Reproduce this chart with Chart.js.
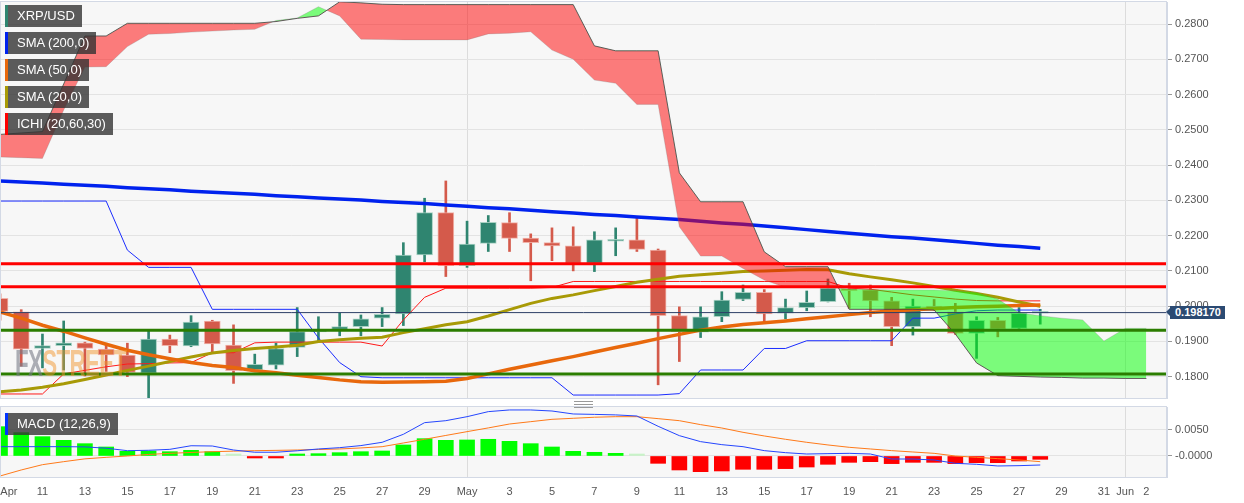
<!DOCTYPE html>
<html>
<head>
<meta charset="utf-8">
<script src="https://cdn.jsdelivr.net/npm/chart.js@4.4.1/dist/chart.umd.min.js"></script>
<style>
body { margin: 0; background: #fff; font-family: "Liberation Sans", Arial, sans-serif; }
#wrap { position: relative; width: 1244px; height: 503px; overflow: hidden; }
canvas { position: absolute; left: 0; }
.tag { position: absolute; left: 5px; height: 22px; line-height: 22px; padding: 0 7px 0 12px;
       background: rgba(51,51,51,0.8); color: #fff; font-size: 13px; white-space: nowrap; }
.tag i { position: absolute; left: 0; top: 0; width: 3px; height: 100%; }
#price { position: absolute; left: 1170px; height: 13px; line-height: 13px; padding: 0 4px 0 5px;
         background: #2b4a72; color: #fff; font-size: 11px; font-weight: bold; }
#price:before { content: ""; position: absolute; left: -4px; top: 2px; border-style: solid;
                border-width: 4.5px 4px 4.5px 0; border-color: transparent #2b4a72 transparent transparent; }
#wm { position: absolute; left: 15px; top: 343px; font: bold 36px "Liberation Sans Narrow", "Liberation Sans", sans-serif;
      transform: scaleX(0.62); transform-origin: left top; letter-spacing: -1px; }
#grip { position: absolute; left: 574px; top: 401px; width: 19px; height: 5px;
        border-top: 1px solid #999; border-bottom: 1px solid #999; }
#grip:after { content: ""; position: absolute; left: 0; right: 0; top: 2px; border-top: 1px solid #999; }
</style>
</head>
<body>
<div id="wrap">
  <canvas id="main" width="1244" height="400" style="top:0"></canvas>
  <canvas id="macd" width="1244" height="103" style="top:400px"></canvas>
  <div id="wm"><span style="color:rgba(120,124,135,0.6)">FX</span><span style="color:rgba(242,150,45,0.5)">STREET</span></div>
  <div id="grip"></div>
</div>
<script>
// daily candles, Apr 9 .. May 28
const openP  = [0.2022,0.1984,0.1880,0.1888,0.1896,0.1878,0.1861,0.1810,0.1907,0.1887,0.1958,0.1890,0.1819,0.1833,0.1883,0.1927,0.1934,0.1942,0.1966,0.1978,
                0.2145,0.2265,0.2115,0.2178,0.2237,0.2193,0.2180,0.2171,0.2121,0.2184,0.2188,0.2159,0.1973,0.1926,0.1970,0.2019,0.2039,0.1980,0.1996,0.2013,
                0.2048,0.2046,0.2015,0.1942,0.2000,0.1984,0.1923,0.1960,0.1937,0.1980];
const highP  = [0.2035,0.1990,0.1921,0.1958,0.1898,0.1895,0.1895,0.1930,0.1918,0.1973,0.1960,0.1947,0.1864,0.1895,0.1996,0.1970,0.1980,0.1975,0.1996,0.2180,
                0.2306,0.2355,0.2241,0.2257,0.2265,0.2205,0.2222,0.2225,0.2211,0.2222,0.2249,0.2162,0.1998,0.1998,0.2041,0.2060,0.2047,0.2020,0.2043,0.2077,
                0.2065,0.2060,0.2025,0.2020,0.2019,0.2008,0.1970,0.1968,0.1996,0.1991];
const lowP   = [0.1960,0.1830,0.1825,0.1819,0.1802,0.1815,0.1800,0.1740,0.1868,0.1885,0.1868,0.1781,0.1814,0.1822,0.1857,0.1902,0.1916,0.1916,0.1942,0.1945,
                0.2126,0.2084,0.2110,0.2155,0.2155,0.2072,0.2129,0.2100,0.2098,0.2143,0.2155,0.1777,0.1843,0.1911,0.1956,0.2016,0.1951,0.1964,0.1987,0.2012,
                0.1994,0.1970,0.1888,0.1918,0.1988,0.1920,0.1852,0.1913,0.1935,0.1949];
const closeP = [0.1985,0.1878,0.1888,0.1896,0.1880,0.1862,0.1812,0.1907,0.1888,0.1955,0.1893,0.1817,0.1835,0.1880,0.1928,0.1932,0.1942,0.1964,0.1977,0.2145,
                0.2265,0.2115,0.2176,0.2238,0.2192,0.2180,0.2171,0.2121,0.2188,0.2188,0.2161,0.1973,0.1928,0.1970,0.2017,0.2039,0.1978,0.1996,0.2011,0.2051,
                0.2044,0.2015,0.1942,0.2000,0.1990,0.1923,0.1960,0.1935,0.1980,0.19817];

const sma200 = [0.2355,0.2352,0.2349,0.2346,0.2343,0.2340,0.2336,0.2333,0.2330,0.2326,0.2323,0.2320,0.2317,0.2313,0.2310,0.2307,0.2304,0.2301,0.2297,0.2294,
                0.2291,0.2287,0.2283,0.2279,0.2276,0.2272,0.2268,0.2264,0.2260,0.2257,0.2253,0.2249,0.2246,0.2241,0.2236,0.2232,0.2227,0.2222,0.2217,0.2212,
                0.2207,0.2202,0.2197,0.2193,0.2188,0.2183,0.2178,0.2173,0.2169,0.2164];
const sma50  = [0.1984,0.1966,0.1946,0.1929,0.1910,0.1892,0.1875,0.1862,0.1851,0.1840,0.1832,0.1826,0.1817,0.1811,0.1804,0.1798,0.1791,0.1786,0.1784,0.1785,
                0.1786,0.1787,0.1795,0.1808,0.1821,0.1833,0.1845,0.1857,0.1870,0.1883,0.1895,0.1908,0.1920,0.1932,0.1941,0.1948,0.1953,0.1958,0.1964,0.1970,
                0.1976,0.1982,0.1986,0.1990,0.1993,0.1996,0.1998,0.2000,0.2002,0.2003];
const sma20  = [0.1757,0.1762,0.1770,0.1780,0.1792,0.1805,0.1818,0.1830,0.1843,0.1856,0.1867,0.1874,0.1880,0.1884,0.1889,0.1900,0.1905,0.1909,0.1912,0.1925,
                0.1936,0.1947,0.1956,0.1972,0.1990,0.2008,0.2022,0.2032,0.2044,0.2056,0.2068,0.2076,0.2085,0.2089,0.2093,0.2098,0.2100,0.2102,0.2104,0.2103,
                0.2092,0.2083,0.2075,0.2066,0.2056,0.2045,0.2036,0.2025,0.2012,0.2000];
// ichimoku conversion / base lines
const tenkan = [0.1751,0.1751,0.1751,0.1808,0.1818,0.1828,0.1836,0.1837,0.1839,0.1840,0.1868,0.1868,0.1896,0.1898,0.1898,0.1898,0.1898,0.1898,0.1887,0.1961,
                0.2025,0.2051,0.2051,0.2051,0.2051,0.2051,0.2053,0.2070,0.2070,0.2070,0.2070,0.2070,0.2070,0.2070,0.2070,0.2070,0.2070,0.2070,0.2070,0.2070,
                0.2051,0.2048,0.2040,0.2032,0.2026,0.2020,0.2016,0.2015,0.2015,0.2015];
const kijun  = [0.2298,0.2298,0.2298,0.2298,0.2298,0.2298,0.2159,0.2110,0.2110,0.2110,0.1991,0.1991,0.1991,0.1991,0.1991,0.1910,0.1840,0.1800,0.1797,0.1797,
                0.1797,0.1797,0.1797,0.1797,0.1797,0.1797,0.1797,0.1748,0.1748,0.1748,0.1748,0.1748,0.1752,0.1819,0.1819,0.1819,0.1880,0.1880,0.1902,0.1902,
                0.1902,0.1902,0.1902,0.1966,0.1966,0.1978,0.1987,0.1989,0.1989,0.1989];
// cloud, runs 5 days past the last candle
const spanA = [0.2423,0.2421,0.2419,0.2556,0.2678,0.2679,0.2736,0.2771,0.2773,0.2777,0.2780,0.2783,0.2785,0.2810,0.2817,0.2849,0.2823,0.2757,0.2756,0.2755,
               0.2755,0.2755,0.2755,0.2772,0.2774,0.2778,0.2726,0.2700,0.2641,0.2632,0.2572,0.2572,0.2225,0.2142,0.2142,0.2107,0.2074,0.2053,0.2053,0.2053,
               0.2049,0.2047,0.2046,0.2046,0.2046,0.2044,0.2039,0.2020,0.1981,0.1973,0.1966,0.1961,0.1901,0.1937,0.1937];
const spanB = [0.2487,0.2491,0.2495,0.2630,0.2766,0.2766,0.2802,0.2802,0.2802,0.2802,0.2802,0.2802,0.2802,0.2807,0.2816,0.2823,0.2863,0.2860,0.2856,0.2855,
               0.2855,0.2855,0.2855,0.2855,0.2855,0.2855,0.2855,0.2855,0.2738,0.2724,0.2724,0.2724,0.2378,0.2296,0.2296,0.2296,0.2154,0.2112,0.2112,0.2112,
               0.1991,0.1991,0.1991,0.1991,0.1989,0.1921,0.1839,0.1803,0.1801,0.1799,0.1798,0.1796,0.1796,0.1795,0.1795];

const resistLevels = [0.2120, 0.2055];
const supportLevels = [0.1932, 0.1808];
const priceTicks = [0.18, 0.19, 0.20, 0.21, 0.22, 0.23, 0.24, 0.25, 0.26, 0.27, 0.28];

const macdHist = [0.00564,0.00449,0.00372,0.00301,0.00237,0.00173,0.00090,0.00096,0.00083,0.00109,0.00083,0.00019,-0.00013,-0.00013,0.00026,0.00045,0.00064,0.00083,0.00096,0.00212,
                  0.00333,0.00301,0.00308,0.00321,0.00282,0.00237,0.00173,0.00090,0.00071,0.00051,0.00010,-0.00141,-0.00269,-0.00301,-0.00288,-0.00256,-0.00256,-0.00243,-0.00212,-0.00160,
                  -0.00122,-0.00109,-0.00147,-0.00122,-0.00122,-0.00147,-0.00128,-0.00128,-0.00096,-0.00064];
const macdLine = [0.00179,0.00179,0.00179,0.00179,0.00175,0.00150,0.00102,0.00110,0.00128,0.00197,0.00192,0.00115,0.00072,0.00072,0.00100,0.00135,0.00160,0.00200,0.00263,0.00417,
                  0.00641,0.00679,0.00756,0.00853,0.00885,0.00885,0.00865,0.00808,0.00800,0.00790,0.00769,0.00571,0.00391,0.00276,0.00218,0.00179,0.00103,0.00064,0.00038,0.00045,
                  0.00051,0.00038,-0.00058,-0.00058,-0.00077,-0.00141,-0.00160,-0.00192,-0.00186,-0.00173];
const macdSignal = [-0.00385,-0.00269,-0.00167,-0.00109,-0.00055,-0.00026,0.00000,0.00030,0.00051,0.00068,0.00083,0.00093,0.00102,0.00108,0.00115,0.00125,0.00135,0.00155,0.00179,0.00250,
                    0.00321,0.00395,0.00468,0.00540,0.00615,0.00660,0.00705,0.00725,0.00745,0.00756,0.00756,0.00718,0.00679,0.00603,0.00538,0.00455,0.00385,0.00321,0.00263,0.00212,
                    0.00167,0.00135,0.00103,0.00077,0.00051,0.00000,-0.00026,-0.00051,-0.00077,-0.00109];
const macdTicks = [0, 0.005];
const macdTickLabels = ['-0.0000', '0.0050'];

// day index of each date label ("Apr" nudged right so it stays inside)
const dayTicks = [0.42, 2, 4, 6, 8, 10, 12, 14, 16, 18, 20, 22, 24, 26, 28, 30, 32, 34, 36, 38, 40, 42, 44, 46, 48, 50, 52, 53, 54];
const dayLabels = ['Apr','11','13','15','17','19','21','23','25','27','29','May','3','5','7','9','11','13','15','17','19','21','23','25','27','29','31','Jun','2'];
const monthStarts = [22, 53];

const legendNames = ['XRP/USD', 'SMA (200,0)', 'SMA (50,0)', 'SMA (20,0)', 'ICHI (20,60,30)'];
const legendColors = ['#2f8570', '#0022ee', '#e8680c', '#a89a06', '#ff0000'];

const X_MAX = 54.97;
const RED = '#d45a4b', TEAL = '#2f8570';
const lastClose = closeP[closeP.length - 1];

Chart.defaults.font.family = '"Liberation Sans", Arial, sans-serif';
Chart.defaults.font.size = 11;
Chart.defaults.color = '#555';

const pts = arr => arr.map((v, i) => ({ x: i, y: v }));
const flat = v => [{ x: 0, y: v }, { x: X_MAX, y: v }];
const isUp = i => closeP[i] >= openP[i];

const panelBg = {
  id: 'panelBg',
  beforeDraw(c) {
    const a = c.chartArea, g = c.ctx;
    g.save();
    g.fillStyle = '#f7f7f7';
    g.fillRect(a.left, a.top, a.right - a.left, a.bottom - a.top);
    g.restore();
  },
  afterDraw(c) {
    const a = c.chartArea, g = c.ctx;
    g.save();
    g.strokeStyle = '#d3d9e5';
    g.lineWidth = 1;
    g.strokeRect(a.left + 0.5, a.top - 0.5, a.right - a.left - 1, a.bottom - a.top + 1);
    g.restore();
  }
};

function lineDs(data, color, width, order) {
  return { type: 'line', data: data, borderColor: color, borderWidth: width, pointRadius: 0,
           tension: 0, fill: false, order: order };
}

function yAxisFit(s) { s.width = 77; s.paddingTop = 0; s.paddingBottom = 0; }

const mainDatasets = [
  // cloud: span B with its dark edge, span A filled towards it
  lineDs(pts(spanB), 'rgba(70,70,70,0.85)', 1, 0),
  Object.assign(lineDs(pts(spanA), 'rgba(120,120,120,0.25)', 1, 1),
    { fill: { target: 0, above: 'rgba(0,255,0,0.5)', below: 'rgba(255,0,0,0.5)' } }),
  lineDs(flat(resistLevels[0]), '#ff0000', 3, -1),
  lineDs(flat(resistLevels[1]), '#ff0000', 3, -1),
  lineDs(flat(supportLevels[0]), '#2b7d00', 3, -1),
  lineDs(flat(supportLevels[1]), '#2b7d00', 3, -1),
  lineDs(flat(lastClose), '#2c3e66', 1, -1),
  lineDs(pts(sma200), '#0022ee', 3.5, 2),
  lineDs(pts(sma50), '#e8680c', 3.5, 2),
  lineDs(pts(sma20), '#a89a06', 3, 2),
  lineDs(pts(tenkan), '#ff1a1a', 1, 3),
  lineDs(pts(kijun), '#1a2cff', 1, 3),
  { type: 'bar', data: closeP.map((c, i) => ({ x: i, y: [openP[i], c] })),
    backgroundColor: ctx => isUp(ctx.dataIndex) ? TEAL : RED,
    borderColor: ctx => isUp(ctx.dataIndex) ? 'rgba(160,205,190,0.9)' : 'rgba(240,170,160,0.9)',
    borderWidth: 1, borderSkipped: false, barThickness: 16, minBarLength: 2, grouped: false, order: 4 },
  { type: 'bar', data: closeP.map((c, i) => ({ x: i, y: [lowP[i], highP[i]] })),
    backgroundColor: ctx => isUp(ctx.dataIndex) ? TEAL : RED,
    barThickness: 2, grouped: false, order: 5 }
];

const mainChart = new Chart(document.getElementById('main'), {
  type: 'bar',
  data: { datasets: mainDatasets },
  options: {
    responsive: false, animation: false, devicePixelRatio: 1,
    layout: { padding: { top: 2, bottom: 2, left: 0, right: 0 } },
    plugins: { legend: { display: false }, tooltip: { enabled: false } },
    scales: {
      x: {
        type: 'linear', min: 0, max: X_MAX, offset: false,
        afterBuildTicks: s => { s.ticks = monthStarts.map(v => ({ value: v })); },
        afterFit: s => { s.height = 0; s.paddingLeft = 0; s.paddingRight = 0; },
        ticks: { display: false },
        grid: { color: '#dcdcdc', drawTicks: false, offset: false },
        border: { display: false }
      },
      y: {
        position: 'right', min: 0.17396, max: 0.28624,
        afterBuildTicks: s => { s.ticks = priceTicks.map(v => ({ value: v })); },
        afterFit: yAxisFit,
        ticks: { callback: v => v.toFixed(4), padding: 3, color: '#555' },
        grid: { color: '#e3e3e3', tickColor: '#999', tickLength: 5 },
        border: { color: '#d3d9e5' }
      }
    }
  },
  plugins: [panelBg]
});

new Chart(document.getElementById('macd'), {
  type: 'bar',
  data: { datasets: [
    lineDs(pts(macdLine), '#2546ff', 1, 0),
    lineDs(pts(macdSignal), '#ff7a1a', 1, 1),
    { type: 'bar', data: pts(macdHist), barThickness: 15, minBarLength: 2, grouped: false, order: 2,
      backgroundColor: ctx => {
        const v = macdHist[ctx.dataIndex];
        return v < 0 ? '#ff0000' : (v < 0.0002 ? '#c8f2c8' : '#00ff00');
      } }
  ] },
  options: {
    responsive: false, animation: false, devicePixelRatio: 1,
    layout: { padding: { top: 7, bottom: 0, left: 0, right: 0 } },
    plugins: { legend: { display: false }, tooltip: { enabled: false } },
    scales: {
      x: {
        type: 'linear', min: 0, max: X_MAX, offset: false,
        afterBuildTicks: s => { s.ticks = dayTicks.map(v => ({ value: v })); },
        afterFit: s => { s.height = 26; s.paddingLeft = 0; s.paddingRight = 0; },
        ticks: { callback: (v, i) => dayLabels[i], autoSkip: false, maxRotation: 0, padding: 8, color: '#555' },
        grid: { color: ctx => (ctx.tick && monthStarts.includes(ctx.tick.value)) ? '#dcdcdc' : 'rgba(0,0,0,0)',
                drawTicks: false, offset: false },
        border: { display: false }
      },
      y: {
        position: 'right', min: -0.00404, max: 0.00942,
        afterBuildTicks: s => { s.ticks = macdTicks.map(v => ({ value: v })); },
        afterFit: yAxisFit,
        ticks: { callback: (v, i) => macdTickLabels[i], padding: 3, color: '#555' },
        grid: { color: '#e3e3e3', tickColor: '#999', tickLength: 5 },
        border: { color: '#d3d9e5' }
      }
    }
  },
  plugins: [panelBg]
});

// legend tags
const wrap = document.getElementById('wrap');
legendNames.forEach((name, k) => {
  const d = document.createElement('div');
  d.className = 'tag';
  d.style.top = (5 + k * 27) + 'px';
  d.innerHTML = '<i style="background:' + legendColors[k] + '"></i>' + name;
  wrap.appendChild(d);
});
const m = document.createElement('div');
m.className = 'tag';
m.style.top = '413px';
m.innerHTML = '<i style="background:#0033ff"></i>MACD (12,26,9)';
wrap.appendChild(m);

// last price marker on the axis
const p = document.createElement('div');
p.id = 'price';
p.textContent = lastClose.toFixed(6);
p.style.top = (mainChart.scales.y.getPixelForValue(lastClose) - 6.5) + 'px';
wrap.appendChild(p);
</script>
</body>
</html>
